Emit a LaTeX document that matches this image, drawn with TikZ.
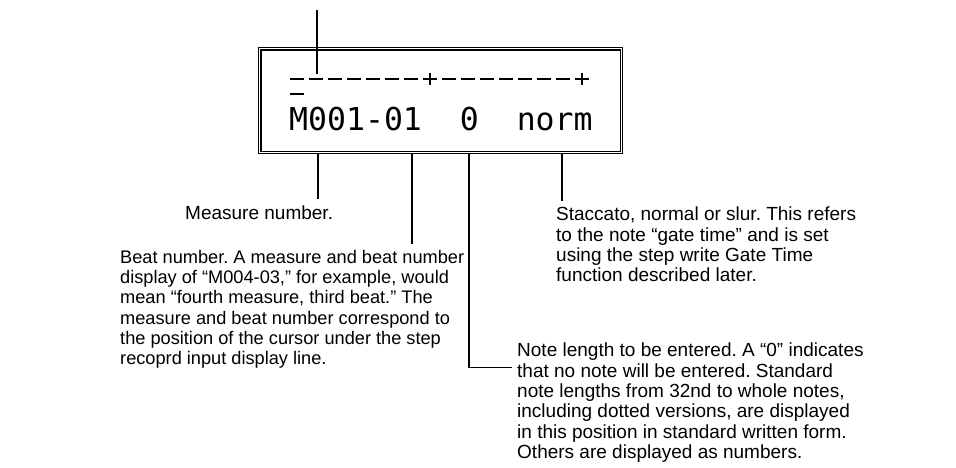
\documentclass[tikz,border=0pt]{standalone}
\usepackage{fontspec}
\setmainfont{Liberation Sans}
\newfontfamily\lcdfont{DejaVu Sans Mono}
\frenchspacing
\begin{document}
\begin{tikzpicture}[x=1pt,y=-1pt,
  lbl/.style={anchor=north west, inner sep=0pt, align=left, font=\fontsize{19}{20.3}\selectfont},
  lblsmall/.style={lbl, font=\fontsize{18.2}{20.3}\selectfont},
  ptr/.style={line width=1.3pt},
  border/.style={line width=1.2pt},
  ruler/.style={line width=1.6pt}]
\useasboundingbox (0,0) rectangle (956,468);
\fill[white] (0,0) rectangle (956,468);
% display box (double border)
\node[draw, border, minimum width=364pt, minimum height=106pt, inner sep=0pt, anchor=north west] (lcd) at (258,47) {};
\draw[border] ([shift={(3pt,-3pt)}]lcd.north west) rectangle ([shift={(-3pt,3pt)}]lcd.south east);
% ruler line
\foreach \i in {0,...,15} {\draw[ruler] ({290+19*\i},79) -- ++(14,0);}
\foreach \i in {7,15} {\draw[ruler] ({297+19*\i},73) -- ++(0,12);}
% cursor
\draw[ruler] (290,94) -- ++(14,0);
% top pointer
\draw[ptr] (317,10) -- (317,74);
% display text
\node[anchor=base west, inner sep=0pt, font=\lcdfont\fontsize{31.5}{31.5}\selectfont] (disp) at (289,131) {M001-01\ \ 0\ \ norm};
% labels
\node[lbl] (meas) at (185,206) {Measure number.};
\node[lblsmall] (beat) at (120,250) {Beat number. A measure and beat number\\display of “M004-03,” for example, would\\mean “fourth measure, third beat.” The\\measure and beat number correspond to\\the position of the cursor under the step\\recoprd input display line.};
\node[lbl] (stac) at (556,207) {Staccato, normal or slur. This refers\\to the note “gate time” and is set\\using the step write Gate Time\\function described later.};
\node[lbl] (note) at (517,343) {Note length to be entered. A “0” indicates\\that no note will be entered. Standard\\note lengths from 32nd to whole notes,\\including dotted versions, are displayed\\in this position in standard written form.\\Others are displayed as numbers.};
% pointers
\draw[ptr] ([xshift=60pt]lcd.south west) -- ++(0,45);
\draw[ptr] ([xshift=154pt]lcd.south west) -- ++(0,90);
\draw[ptr] ([xshift=211pt]lcd.south west) -- ++(0,213) -- ++(43,0);
\draw[ptr] ([xshift=304pt]lcd.south west) -- ++(0,47);
\end{tikzpicture}
\end{document}
